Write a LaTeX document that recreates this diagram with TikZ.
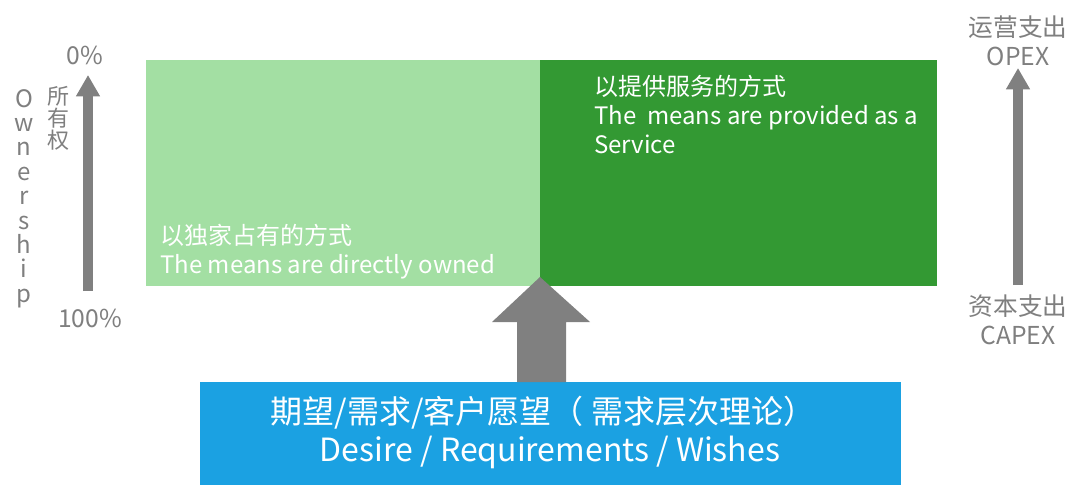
\documentclass[tikz,border=0pt]{standalone}
\usepackage{fontspec}
\setmainfont{Noto Sans CJK SC}
\usetikzlibrary{arrows.meta}
\definecolor{lgreen}{HTML}{A3DFA3}
\definecolor{dgreen}{HTML}{339933}
\definecolor{agray}{HTML}{808080}
\definecolor{tgray}{HTML}{7F7F7F}
\definecolor{bblue}{HTML}{1BA1E2}
\begin{document}
\begin{tikzpicture}[x=0.75pt,y=-0.75pt,
  lbl/.style={text=tgray,font=\fontsize{18.5}{21.5}\selectfont,inner sep=0pt},
  wtxt/.style={text=white,font=\fontsize{18}{21.8}\selectfont,inner sep=0pt,align=left},
  garrow/.style={draw=agray,line width=8pt,-{Triangle[length=16pt,width=17pt]}}]
\useasboundingbox (0,0) rectangle (1080,489);
% boxes
\fill[lgreen] (146,60) rectangle (540,286);
\fill[dgreen] (540,60) rectangle (937,286);
\node[wtxt,anchor=south west] (own) at (160,279) {以独家占有的方式\\The means are directly owned};
\node[wtxt,anchor=north west] (svc) at (594,75) {以提供服务的方式\\The\ \ means are provided as a\\Service};
% left arrow
\coordinate (lbot) at (88,291);
\coordinate (ltop) at (88,75);
\draw[garrow] (lbot) -- (ltop);
\node[lbl] (p0) at (85,55) {0\%};
\node[lbl] (p100) at (90,318) {100\%};
\node[lbl,align=center,font=\fontsize{18}{18.3}\selectfont,anchor=north] (ownv) at (24,89) {O\\w\\n\\e\\r\\s\\h\\i\\p};
\node[lbl,align=center,font=\fontsize{16.5}{16.5}\selectfont,anchor=north] (syq) at (58,86) {所\\有\\权};
% right arrow
\coordinate (rbot) at (1018,285);
\coordinate (rtop) at (1018,68);
\draw[garrow] (rbot) -- (rtop);
\node[lbl,align=center,anchor=south] (opex) at (1018,66) {运营支出\\OPEX};
\node[lbl,align=center,anchor=north] (capex) at (1018,295) {资本支出\\CAPEX};
% bottom box
\node[fill=bblue,minimum width=701*0.75pt,minimum height=103*0.75pt,inner sep=0pt,anchor=north west] (need) at (200,382) {};
\node[text=white,font=\fontsize{24}{29}\selectfont,inner sep=0pt] (needcn) at (543,413) {期望/需求/客户愿望（ 需求层次理论）};
\node[text=white,font=\fontsize{24}{29}\selectfont,inner sep=0pt] (needen) at (550,452) {Desire / Requirements / Wishes};
% centre block arrow
\fill[agray] (517,382) -- (517,322) -- (492,322) -- (540,277) -- (590,322) -- (566,322) -- (566,382) -- cycle;
\end{tikzpicture}
\end{document}
